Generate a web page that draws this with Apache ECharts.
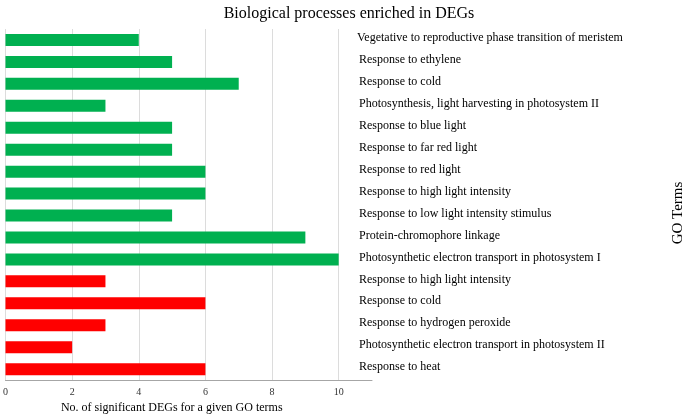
<!DOCTYPE html>
<html><head><meta charset="utf-8">
<script src="https://cdn.jsdelivr.net/npm/echarts@6/dist/echarts.min.js"></script>
<style>html,body{margin:0;padding:0;background:#fff}#c{width:685px;height:419px}</style>
</head><body><div id="c"></div>
<script>
const categories = [
  "Vegetative to reproductive phase transition of meristem",
  "Response to ethylene",
  "Response to cold",
  "Photosynthesis, light harvesting in photosystem II",
  "Response to blue light",
  "Response to far red light",
  "Response to red light",
  "Response to high light intensity",
  "Response to low light intensity stimulus",
  "Protein-chromophore linkage",
  "Photosynthetic electron transport in photosystem I",
  "Response to high light intensity",
  "Response to cold",
  "Response to hydrogen peroxide",
  "Photosynthetic electron transport in photosystem II",
  "Response to heat"
];
const counts = [4, 5, 7, 3, 5, 5, 6, 6, 5, 9, 10, 3, 6, 3, 2, 6];
const groups = ["up","up","up","up","up","up","up","up","up","up","up","down","down","down","down","down"];
const groupColors = { up: "#00B050", down: "#FF0000" };
const xTicks = [0, 2, 4, 6, 8, 10];

const font = "'Liberation Serif', 'Times New Roman', serif";
const chart = echarts.init(document.getElementById('c'));
chart.setOption({
  animation: false,
  title: {
    text: "Biological processes enriched in DEGs",
    left: 344, textAlign: 'center', top: 1,
    textStyle: { fontFamily: font, fontSize: 16, fontWeight: 'normal', color: '#000' }
  },
  grid: { left: 3, right: 313, top: 29, bottom: 35, containLabel: false },
  xAxis: {
    type: 'value', min: 0, max: 11, interval: 2,
    name: "No. of significant DEGs for a given GO terms",
    nameLocation: 'middle', nameGap: 21,
    nameTextStyle: { fontFamily: font, fontSize: 12, color: '#000', padding: [0, 34, 0, 0] },
    axisLine: { show: true, lineStyle: { color: '#a6a6a6', width: 1 } },
    axisTick: { show: false },
    axisLabel: {
      fontFamily: font, fontSize: 10, color: '#333', margin: 7,
      showMaxLabel: false,
      formatter: v => xTicks.includes(v) ? String(v) : ''
    },
    splitLine: { show: true, lineStyle: { color: ['#dcdcdc','#dcdcdc','#dcdcdc','#dcdcdc','#dcdcdc','#dcdcdc','rgba(0,0,0,0)'], width: 1 } }
  },
  yAxis: {
    type: 'category', data: categories, inverse: true, position: 'right',
    axisLine: { show: false }, axisTick: { show: false },
    axisLabel: {
      fontFamily: font, fontSize: 12, color: '#000', align: 'left', margin: -15,
      padding: [0, 0, 4, 0],
      formatter: (v, i) => i === 0 ? '{a|' + v + '}' : '{b|' + v + '}',
      rich: {
        a: { fontFamily: font, fontSize: 12, color: '#000' },
        b: { fontFamily: font, fontSize: 12, color: '#000', padding: [0, 0, 0, 2] }
      }
    }
  },
  graphic: [{
    type: 'text', x: 678, y: 213, rotation: Math.PI / 2,
    style: { text: "GO Terms", font: "15px " + font, fill: '#000', textAlign: 'center', textVerticalAlign: 'middle' }
  }],
  series: [{
    type: 'bar', barWidth: 12,
    data: counts.map((v, i) => ({ value: v, itemStyle: { color: groupColors[groups[i]] } }))
  }]
});
</script></body></html>
